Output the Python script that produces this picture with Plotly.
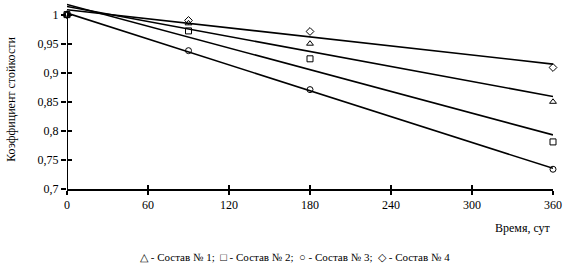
import numpy as np
import plotly.graph_objects as go

days = [0, 90, 180, 360]
sostav1 = [1.0, 0.985, 0.95, 0.85]
sostav2 = [1.0, 0.972, 0.924, 0.781]
sostav3 = [1.0, 0.938, 0.871, 0.734]
sostav4 = [1.0, 0.99, 0.971, 0.909]
x_ticks = [0, 60, 120, 180, 240, 300, 360]
y_ticks = [0.7, 0.75, 0.8, 0.85, 0.9, 0.95, 1.0]
y_tick_labels = ["0,7", "0,75", "0,8", "0,85", "0,9", "0,95", "1"]

series = [
    (sostav1, "triangle-up-open"),
    (sostav2, "square-open"),
    (sostav3, "circle-open"),
    (sostav4, "diamond-open"),
]

FONT = "Liberation Serif"
fig = go.Figure()
xd = np.array(days, dtype=float)
xfit = np.array([x_ticks[0], x_ticks[-1]], dtype=float)
for vals, sym in series:
    k, b = np.polyfit(xd, np.array(vals), 1)
    fig.add_trace(go.Scatter(x=xfit, y=k * xfit + b, mode="lines",
                             line=dict(color="black", width=1.6),
                             showlegend=False, hoverinfo="skip"))
for vals, sym in series:
    fig.add_trace(go.Scatter(x=days, y=vals, mode="markers", cliponaxis=False,
                             marker=dict(symbol=sym, size=6, color="black",
                                         line=dict(width=1, color="black")),
                             showlegend=False))

# dummy trace for overlay axes
fig.add_trace(go.Scatter(x=[x_ticks[0]], y=[y_ticks[0]], xaxis="x2", yaxis="y2",
                         mode="markers", marker=dict(opacity=0), showlegend=False,
                         hoverinfo="skip"))

xr = [x_ticks[0], x_ticks[-1]]
yr = [y_ticks[0], 1.02]
fig.update_layout(
    width=570, height=272,
    margin=dict(l=67, r=17, t=3, b=83),
    paper_bgcolor="white", plot_bgcolor="white",
    font=dict(family=FONT, size=12, color="black"),
    xaxis=dict(range=xr, tickvals=x_ticks, ticktext=[str(v) for v in x_ticks],
               showgrid=False, zeroline=False, showline=True, linecolor="black",
               linewidth=2, ticks="outside", ticklen=4, tickwidth=2,
               tickcolor="black", tickfont=dict(family=FONT, size=12)),
    yaxis=dict(range=yr, tickvals=y_ticks, ticktext=y_tick_labels,
               showgrid=False, zeroline=False, showline=False,
               ticks="outside", ticklen=5, tickwidth=2, tickcolor="black",
               tickfont=dict(family=FONT, size=12)),
    xaxis2=dict(range=xr, overlaying="x", tickvals=x_ticks, showticklabels=False,
                ticks="inside", ticklen=4, tickwidth=2, tickcolor="black",
                showgrid=False, zeroline=False, side="bottom"),
    yaxis2=dict(range=yr, overlaying="y", tickvals=y_ticks, showticklabels=False,
                ticks="inside", ticklen=5, tickwidth=2, tickcolor="black",
                showgrid=False, zeroline=False, side="left"),
    shapes=[dict(type="line", xref="x", yref="y", x0=x_ticks[0], x1=x_ticks[0],
                 y0=y_ticks[0], y1=y_ticks[-1], line=dict(color="black", width=2))],
    annotations=[
        dict(text="Коэффициент стойкости", textangle=-90, xref="paper", yref="paper",
             x=-0.115, y=0.48, xanchor="center", yanchor="middle", showarrow=False,
             font=dict(family=FONT, size=12)),
        dict(text="Время, сут", xref="paper", yref="paper", x=1.0, y=-0.16,
             xanchor="right", yanchor="top", showarrow=False,
             font=dict(family=FONT, size=12)),
        dict(text="△ - Состав № 1;  □ - Состав № 2;  ○ - Состав № 3;  ◇ - Состав № 4",
             xref="paper", yref="paper", x=0.47, y=-0.32, xanchor="center",
             yanchor="top", showarrow=False, font=dict(family=FONT, size=11)),
    ],
)

fig.write_html("out.html", config={"displayModeBar": False},
               post_script="document.body.style.margin='0';document.body.style.overflow='hidden';")
